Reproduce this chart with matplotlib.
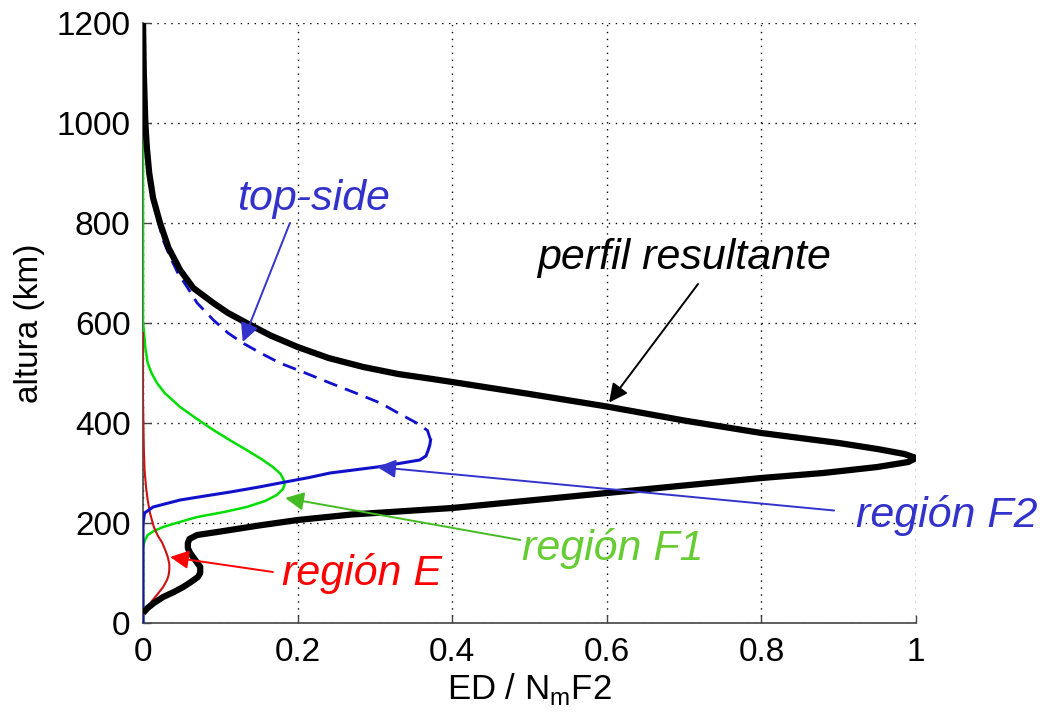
"""
Perfil de densidad electronica: regiones E, F1, F2 y perfil resultante.
"""

import matplotlib
matplotlib.use("Agg")
import matplotlib.pyplot as plt
from matplotlib.ticker import FuncFormatter


# -------------------------------------------------
# DATA
# -------------------------------------------------
# perfil resultante (black)
black_alt = [1200, 1100, 1000, 950, 900, 850, 800, 750, 706, 670, 640, 620, 600,
             575, 552, 530, 512, 498, 489, 482, 470, 458, 433, 405, 380, 360,
             348, 338, 330, 322, 312, 300, 290, 275, 260, 245, 230, 217, 206,
             195, 182, 176, 168, 160, 150, 140, 125, 112, 100, 92, 82, 72, 62,
             52, 40, 30, 20]
black_ed = [0.0, 0.001, 0.003, 0.005, 0.008, 0.013, 0.022, 0.033, 0.048, 0.065,
            0.091, 0.11, 0.134, 0.165, 0.2, 0.24, 0.285, 0.33, 0.37, 0.4, 0.45,
            0.5, 0.6, 0.7, 0.8, 0.9, 0.95, 0.985, 1.0, 0.99, 0.95, 0.88, 0.8,
            0.7, 0.6, 0.5, 0.4, 0.27, 0.2, 0.15, 0.096, 0.07, 0.06, 0.058,
            0.058, 0.061, 0.068, 0.074, 0.074, 0.071, 0.062, 0.052, 0.04,
            0.026, 0.014, 0.006, 0.0]

# region F2, bottom-side (solid blue)
f2_low_alt = [0, 150, 200, 220, 232, 246, 254, 262, 272, 282, 291, 300, 312,
              320, 326, 334, 346, 356, 366]
f2_low_ed = [0.0, 0.0, 0.0, 0.002, 0.013, 0.048, 0.08, 0.113, 0.15, 0.184,
             0.215, 0.242, 0.303, 0.335, 0.358, 0.366, 0.369, 0.371, 0.372]

# region F2, top-side (dashed blue)
f2_top_alt = [366, 385, 400, 420, 440, 460, 480, 500, 520, 540, 560, 580, 606,
              640, 672, 700, 732, 766, 800, 850, 900, 950, 1000, 1100, 1200]
f2_top_ed = [0.372, 0.368, 0.354, 0.33, 0.307, 0.275, 0.242, 0.21, 0.177,
             0.152, 0.129, 0.11, 0.091, 0.07, 0.057, 0.045, 0.035, 0.026,
             0.02, 0.014, 0.009, 0.006, 0.004, 0.002, 0.001]

# region F1 (green)
f1_alt = [1028, 800, 600, 586, 550, 520, 500, 480, 460, 432, 410, 386, 366,
          346, 328, 312, 298, 286, 276, 268, 256, 244, 232, 222, 212, 200,
          192, 184, 176, 164, 152, 0]
f1_ed = [0.0, 0.0, 0.0, 0.001, 0.003, 0.006, 0.011, 0.018, 0.028, 0.048,
         0.068, 0.091, 0.112, 0.134, 0.153, 0.168, 0.178, 0.182, 0.183, 0.181,
         0.173, 0.158, 0.134, 0.105, 0.07, 0.043, 0.026, 0.014, 0.006, 0.002,
         0.0, 0.0]

# region E (red)
e_alt = [580, 446, 350, 306, 270, 246, 220, 192, 175, 160, 145, 132, 118, 106,
         95, 86, 72, 60, 45, 32, 20]
e_ed = [0.0, 0.0, 0.001, 0.002, 0.004, 0.006, 0.009, 0.014, 0.019, 0.025,
        0.029, 0.032, 0.034, 0.034, 0.033, 0.031, 0.026, 0.02, 0.012, 0.006,
        0.0]

x_ticks = [0, 0.2, 0.4, 0.6, 0.8, 1.0]
y_ticks = [0, 200, 400, 600, 800, 1000, 1200]

# labels: (text, x, y, colour) and arrows: (tail, head, colour)
labels = [
    ("top-side", 0.122, 826, "#3333cc"),
    ("perfil resultante", 0.51, 708, "black"),
    ("región F2", 0.922, 192, "#3333cc"),
    ("región F1", 0.49, 126, "#66cc33"),
    ("región E", 0.18, 76, "#ff0000"),
]
arrows = [
    ((0.19, 800), (0.129, 562), "#3333cc"),
    ((0.718, 678), (0.603, 441), "black"),
    ((0.894, 225), (0.303, 312), "#3333cc"),
    ((0.488, 166), (0.184, 250), "#44bb22"),
    ((0.168, 102), (0.035, 132), "#ff0000"),
]


# -------------------------------------------------
# PLOT
# -------------------------------------------------
plt.rcParams["font.family"] = ["Liberation Sans", "DejaVu Sans"]
plt.rcParams["mathtext.fontset"] = "custom"
plt.rcParams["mathtext.rm"] = "Liberation Sans"

fig = plt.figure(figsize=(10.44, 7.12), dpi=100)
ax = fig.add_axes([0.137, 0.125, 0.7404, 0.8427])

ax.plot(f1_ed, f1_alt, color="#00dd00", lw=1.8, zorder=3)
ax.plot(e_ed, e_alt, color="#cc1111", lw=1.5, zorder=3)
ax.plot(f2_low_ed, f2_low_alt, color="#1111cc", lw=2.2, zorder=4)
ax.plot(f2_top_ed, f2_top_alt, color="#1111cc", lw=2.0, zorder=4,
        dashes=(5, 3))
ax.plot(black_ed, black_alt, color="black", lw=4.5, zorder=5,
        solid_capstyle="butt", solid_joinstyle="round")

ax.set_xlim(0, 1)
ax.set_ylim(0, 1200)
ax.set_xticks(x_ticks)
ax.set_yticks(y_ticks)
ax.xaxis.set_major_formatter(FuncFormatter(lambda v, p: f"{v:g}"))
ax.grid(True, color="black", linestyle=(0, (1, 4)), lw=1.0)
ax.set_axisbelow(True)

for side in ("top", "right"):
    ax.spines[side].set_visible(False)
for side in ("left", "bottom"):
    ax.spines[side].set_color("#444444")
    ax.spines[side].set_linewidth(1.2)

ax.tick_params(direction="in", length=6, width=1, colors="#444444",
               labelcolor="black")
ax.tick_params(axis="y", labelsize=24, pad=9)
ax.tick_params(axis="x", labelsize=24, pad=10)

ax.set_ylabel("altura (km)", fontsize=24, labelpad=8)
ax.set_xlabel(r"ED / N$_{\mathrm{m}}$F2", fontsize=25, labelpad=2)

for (x0, y0), (x1, y1), col in arrows:
    ax.annotate("", xy=(x1, y1), xytext=(x0, y0),
                arrowprops=dict(arrowstyle="-|>", color=col, lw=1.4,
                                mutation_scale=28, shrinkA=0, shrinkB=0),
                zorder=6, annotation_clip=False)

for text, x, y, col in labels:
    ax.text(x, y, text, color=col, fontsize=31, style="italic",
            ha="left", va="baseline", zorder=7, clip_on=False)

fig.savefig("out.png", dpi=100)
